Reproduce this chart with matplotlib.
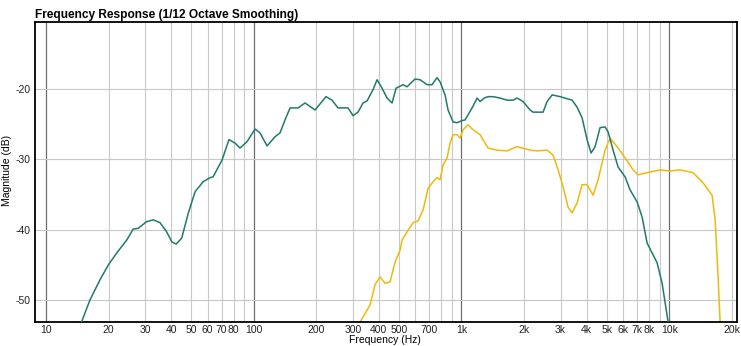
import numpy as np
import matplotlib
matplotlib.use("Agg")
import matplotlib.pyplot as plt
from matplotlib.ticker import FixedLocator, NullFormatter

# Values (Hz, dB)
teal_freq = [14.5, 14.85, 16.28, 18.2, 19.95, 21.9, 24.5, 26.3, 27.8, 30.5, 32.9, 35.4, 38.1,
             40.3, 42.3, 45.0, 48.4, 52.2, 57.0, 61.6, 63.7, 70.4, 76.0, 81.3, 85.9, 92.8,
             101.5, 107.2, 115.9, 126.6, 133.8, 141.5, 149.6, 163.5, 176.6, 197.3, 222.8,
             238.2, 254.6, 284.4, 300.6, 317.7, 335.9, 351.2, 375.3, 392.4, 414.7, 438.4,
             463.4, 484.3, 523.4, 547.2, 597.8, 632.0, 683.1, 721.8, 762.8, 788.8, 833.7,
             862.0, 911.3, 952.4, 1007, 1041, 1125, 1189, 1229, 1285, 1343, 1419, 1534, 1658,
             1772, 1852, 1980, 2140, 2212, 2471, 2583, 2731, 2983, 3408, 3603, 3807, 4024,
             4207, 4398, 4648, 4913, 5079, 5370, 5675, 6134, 6483, 7008, 7406, 7828, 8276,
             8746, 9244, 9878, 10200]
teal_db = [-53.6, -53.05, -49.97, -47.1, -45.0, -43.3, -41.45, -39.9, -39.8, -38.85, -38.6, -39.0, -40.3,
           -41.7, -42.05, -41.2, -37.65, -34.6, -33.2, -32.6, -32.5, -30.1, -27.2, -27.7, -28.4, -27.5,
           -25.7, -26.25, -28.1, -26.8, -26.25, -24.4, -22.7, -22.7, -22.0, -23.0, -21.1,
           -21.6, -22.7, -22.7, -23.8, -23.3, -22.0, -21.7, -20.1, -18.7, -19.9, -21.3,
           -22.0, -19.9, -19.4, -19.7, -18.6, -18.7, -19.4, -19.4, -18.4, -19.0, -20.85,
           -23.0, -24.7, -24.8, -24.5, -24.4, -22.7, -21.3, -21.8, -21.3, -21.1, -21.1, -21.3, -21.6,
           -21.6, -21.3, -21.8, -23.0, -23.3, -23.3, -21.8, -20.85, -21.1, -21.6, -22.6, -24.1, -27.2,
           -29.1, -28.2, -25.5, -25.4, -26.1, -28.7, -31.1, -32.5, -34.35, -36.05, -38.2, -41.9, -43.3,
           -44.7, -47.6, -53.1, -56.0]

yellow_freq = [317.7, 325, 363, 383.7, 405.5, 428.8, 453.3, 479.0, 506.3, 517.6, 547.2, 584.8,
               618.0, 653.4, 690.7, 730.0, 762.8, 788.8, 815.5, 852.5, 881.3, 911.3, 952.4,
               984.7, 1018, 1076, 1137, 1229, 1299, 1343, 1484, 1658, 1852, 2140, 2312, 2583,
               2761, 2919, 3085, 3260, 3408, 3603, 3807, 4024, 4301, 4546, 4913, 5193, 5613,
               6134, 6704, 7086, 7828, 9042, 10099, 11286, 13032, 14562, 16088, 16634, 17196,
               17580, 17700]
yellow_db = [-54.5, -53.1, -50.7, -47.8, -46.7, -47.6, -47.4, -44.6, -42.9, -41.45, -40.3, -39.0,
             -38.75, -37.2, -34.1, -33.2, -32.6, -32.9, -30.8, -29.8, -27.7, -26.5, -26.5,
             -27.0, -25.8, -25.1, -25.8, -26.5, -27.7, -28.4, -28.7, -28.8, -28.2, -28.7, -28.8, -28.7,
             -29.4, -31.5, -33.9, -36.8, -37.6, -36.2, -33.6, -33.6, -35.1, -32.9, -28.7, -27.0, -28.2,
             -29.8, -31.5, -32.2, -31.9, -31.5, -31.65, -31.5, -31.9, -33.35, -35.1, -38.6, -46.7,
             -53.1, -56.5]

xtick_vals = [10, 20, 30, 40, 50, 60, 70, 80, 100, 200, 300, 400, 500, 700,
              1000, 2000, 3000, 4000, 5000, 6000, 7000, 8000, 10000, 20000]
xtick_labels = ["10", "20", "30", "40", "50", "60", "70", "80", "100", "200", "300", "400",
                "500", "700", "1k", "2k", "3k", "4k", "5k", "6k", "7k", "8k", "10k", "20k"]
ytick_vals = [-20, -30, -40, -50]

plt.rcParams['font.family'] = ['Liberation Sans', 'DejaVu Sans']

fig = plt.figure(figsize=(7.41, 3.46), dpi=100)
ax = fig.add_axes([0.0472, 0.0694, 0.9474, 0.867])

ax.set_xscale('log')
ax.set_xlim(8.85, 21200)
ax.set_ylim(-53.1, -10.5)

# grid lines: light minor, darker at decades
minor = [m * d for d in [10, 100, 1000, 10000] for m in range(2, 10) if m * d <= 21000]
for f in minor:
    ax.axvline(f, color='#c8c8c8', lw=0.8, zorder=0)
for f in [10, 100, 1000, 10000]:
    ax.axvline(f, color='#6e6e6e', lw=0.9, zorder=0)
for v in ytick_vals:
    ax.axhline(v, color='#c8c8c8', lw=0.8, zorder=0)

ax.plot(teal_freq, teal_db, color='#217a6a', lw=1.1, zorder=3)
ax.plot(yellow_freq, yellow_db, color='#f0b90a', lw=1.1, zorder=2)

ax.xaxis.set_major_locator(FixedLocator(xtick_vals))
ax.set_xticklabels(xtick_labels)
ax.xaxis.set_minor_formatter(NullFormatter())
ax.tick_params(axis='x', which='both', length=0, pad=2.5, labelsize=7.5, colors='#222222')
ax.set_yticks(ytick_vals)
ax.set_yticklabels([str(v) for v in ytick_vals])
ax.tick_params(axis='y', length=0, pad=3, labelsize=7.5, colors='#222222')

for s in ax.spines.values():
    s.set_linewidth(1.3)
    s.set_color('black')

fig.text(385 / 741, 1 - 345 / 346, 'Frequency (Hz)', fontsize=7.5, ha='center', va='bottom')
fig.text(7.5 / 741, 1 - 170 / 346, 'Magnitude (dB)', fontsize=7.5, rotation=90,
         ha='center', va='center')
ax.set_title('Frequency Response (1/12 Octave Smoothing)', loc='left', fontsize=8.6,
             fontweight='bold', pad=3)

fig.savefig('out.png', dpi=100)
